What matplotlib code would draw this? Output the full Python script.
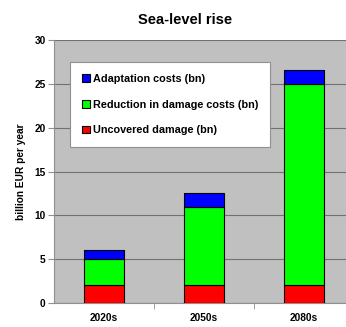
import numpy as np
import matplotlib.pyplot as plt

plt.rcParams['font.family'] = ['Liberation Sans', 'DejaVu Sans']
plt.rcParams['font.weight'] = 'bold'

periods = ['2020s', '2050s', '2080s']
uncovered = [2.0, 2.0, 2.0]
reduction = [3.0, 9.0, 23.0]
adaptation = [1.1, 1.6, 1.6]

fig = plt.figure(figsize=(3.46, 3.27), dpi=100)
ax = fig.add_axes([0.156, 0.0734, 0.867, 0.804])
ax.set_facecolor('#c0c0c0')

x = np.arange(len(periods))
w = 0.4
b1 = ax.bar(x, uncovered, w, color='#ff0000', edgecolor='black', linewidth=0.8, zorder=3, label='Uncovered damage (bn)')
b2 = ax.bar(x, reduction, w, bottom=uncovered, color='#00ff00', edgecolor='black', linewidth=0.8, zorder=3, label='Reduction in damage costs (bn)')
bot = np.array(uncovered) + np.array(reduction)
b3 = ax.bar(x, adaptation, w, bottom=bot, color='#0000ff', edgecolor='black', linewidth=0.8, zorder=3, label='Adaptation costs (bn)')

ax.set_xlim(-0.5, 2.5)
ax.set_ylim(0, 30)
ax.set_yticks(range(0, 31, 5))
ax.yaxis.grid(True, color='#707070', linewidth=0.8, zorder=0)
ax.set_xticks(x)
ax.set_xticklabels(periods, fontsize=7.3, fontweight='bold')
ax.set_xticks([0.5, 1.5], minor=True)
ax.tick_params(axis='x', which='major', length=0, pad=7)
ax.tick_params(axis='x', which='minor', length=4, color='#909090', direction='out')
ax.tick_params(axis='y', labelsize=7.3, length=4, color='#909090', pad=2)
for lab in ax.get_yticklabels():
    lab.set_fontweight('bold')
for s in ['top', 'right']:
    ax.spines[s].set_visible(False)
ax.spines['left'].set_color('#909090')
ax.spines['bottom'].set_color('#909090')

ax.set_ylabel('billion EUR per year', fontsize=7.3, fontweight='bold', labelpad=6)
fig.text(0.535, 0.94, 'Sea-level rise', ha='center', va='center', fontsize=10.5, fontweight='bold')

leg = ax.legend(handles=[b3, b2, b1], loc='upper left', bbox_to_anchor=(70/346, 1 - 62/327),
                bbox_transform=fig.transFigure, fancybox=False, framealpha=1,
                edgecolor='#909090', labelspacing=1.45, handlelength=0.7,
                handleheight=0.7, handletextpad=0.3, borderpad=1.1, borderaxespad=0,
                prop={'weight': 'bold', 'size': 7.8})
leg.get_frame().set_linewidth(0.8)
leg.set_zorder(5)

fig.savefig('out.png', dpi=100)
